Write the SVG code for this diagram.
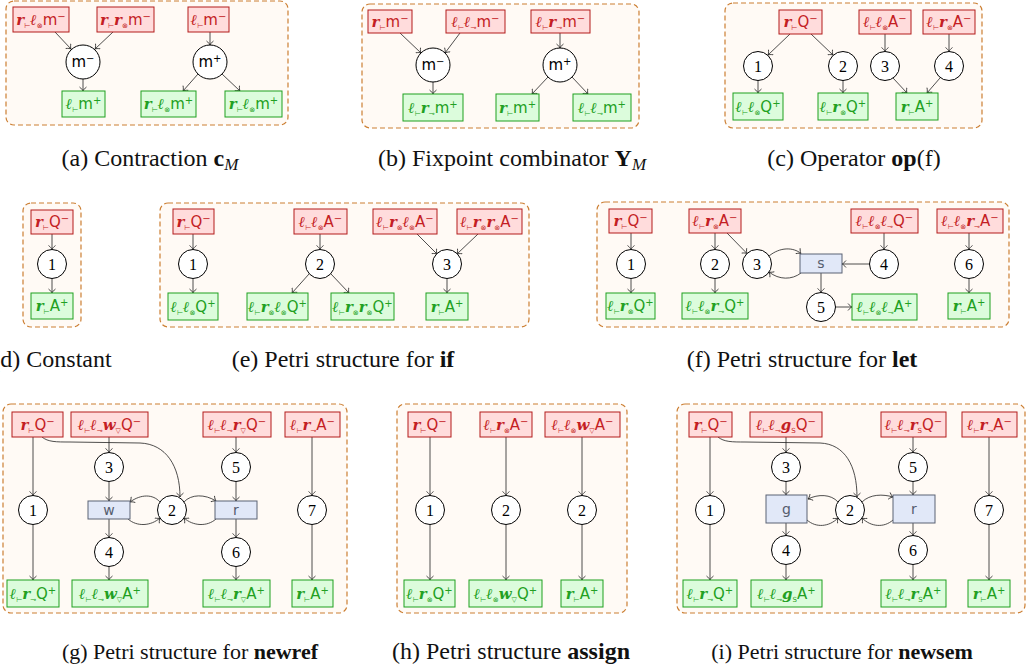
<svg xmlns="http://www.w3.org/2000/svg" width="1027" height="668" viewBox="0 0 1027 668">
<defs>
<marker id="ah" viewBox="-5 -4 6 8" refX="0" refY="0" markerWidth="6" markerHeight="8" markerUnits="userSpaceOnUse" orient="auto">
<path d="M-4,-3.5 C-2.5,-1.5 -1,-0.4 0,0 C-1,0.4 -2.5,1.5 -4,3.5" fill="none" stroke="#222" stroke-width="0.8"/>
</marker>
<style>
.fr{fill:#fffaf5;stroke:#cc7f33;stroke-width:1.2;stroke-dasharray:5 3}
.n rect{fill:#ffdcdc;stroke:#b31b1b;stroke-width:1}
.n text{fill:#c41e24}
.p rect{fill:#dcfcdc;stroke:#1fa01f;stroke-width:1}
.p text{fill:#22a022}
.t rect{fill:#e1e8f8;stroke:#5b6274;stroke-width:1}
.t text{fill:#555d6e;font-family:"DejaVu Sans",sans-serif;font-size:14px;text-anchor:middle}
.pl circle{fill:#fff;stroke:#000;stroke-width:1}
.pl text{font-family:"Liberation Serif",serif;font-size:16px;text-anchor:middle;fill:#000}
.pm text{font-family:"DejaVu Sans",sans-serif;font-size:15px;text-anchor:middle;fill:#000}
text.l{font-family:"DejaVu Sans",sans-serif;font-size:15px;text-anchor:middle}
.c{font-family:"DejaVu Serif",serif;font-style:italic;font-weight:bold}
.b{font-size:7px}
.u{font-size:10px}
.e path{fill:none;stroke:#222;stroke-width:0.8;marker-end:url(#ah)}
.cap{font-family:"Liberation Serif",serif;font-size:24px;text-anchor:middle;fill:#111}
.cs{font-size:22px}
.bf{font-weight:bold}
.it{font-style:italic}
</style>
</defs>

<g id="frames">
<rect class="fr" x="6" y="1" width="282" height="124" rx="8"/>
<rect class="fr" x="362" y="4" width="277" height="124" rx="8"/>
<rect class="fr" x="725" y="3" width="257" height="125" rx="8"/>
<rect class="fr" x="23" y="203" width="58" height="124" rx="8"/>
<rect class="fr" x="160" y="203" width="369" height="124" rx="8"/>
<rect class="fr" x="597" y="202" width="412" height="125" rx="8"/>
<rect class="fr" x="3" y="404" width="344" height="209" rx="8"/>
<rect class="fr" x="397" y="404" width="230" height="209" rx="8"/>
<rect class="fr" x="677" y="404" width="348" height="209" rx="8"/>
</g>

<g id="connectors" class="e">
<path d="M55 32 L71 49"/><path d="M113 32 L95 49"/><path d="M83 79 L83 91"/>
<path d="M210 32 L210 45"/><path d="M198 74 L183 91"/><path d="M222 74 L240 91"/>
<path d="M400 33 L421 53"/><path d="M460 33 L445 53"/><path d="M560 33 L560 48"/>
<path d="M433 82 L433 94"/><path d="M548 77 L532 94"/><path d="M572 77 L588 94"/>
<path d="M790 34 L768 55"/><path d="M811 34 L833 55"/><path d="M885 34 L885 51.5"/><path d="M949 34 L949 51.5"/>
<path d="M758 80.5 L758 93"/><path d="M843 80.5 L843 93"/><path d="M893 78 L907 93"/><path d="M940 78 L927 93"/>
<path d="M52 234 L52 249.5"/><path d="M52 278.5 L52 293"/>
<path d="M193 234 L193 249.5"/><path d="M193 278.5 L193 293"/>
<path d="M320 234 L320 249.5"/><path d="M309 274 L292 293"/><path d="M331 274 L349 293"/>
<path d="M417 234 L437 254"/><path d="M478 234 L457 254"/><path d="M447 278.5 L447 293"/>
<path d="M631 233 L631 249.5"/><path d="M631 278.5 L631 293"/>
<path d="M715 233 L715 249.5"/><path d="M715 278.5 L715 293"/>
<path d="M727 233 L747 253.5"/>
<path d="M769 256 C780 247 793 247 801 253.5"/>
<path d="M801 273 C792 280 779 280 769 272"/>
<path d="M869.5 264 L842 264"/>
<path d="M884 233 L884 249.5"/>
<path d="M821 273 L821 292.5"/>
<path d="M835.5 307 L852 307"/>
<path d="M969 233 L969 249.5"/><path d="M969 278.5 L969 293"/>
<path d="M33 437 L33 495.5"/><path d="M33 524.5 L33 580"/>
<path d="M42 437 C48 442 56 442 70 442 L140 443 C166 444 180 466 180 497"/>
<path d="M109 437 L109 452.5"/><path d="M109 481.5 L109 501"/><path d="M109 519 L109 537.5"/><path d="M109 566.5 L109 580"/>
<path d="M236 437 L236 452.5"/><path d="M236 481.5 L236 501"/><path d="M236 519 L236 537.5"/><path d="M236 566.5 L236 580"/>
<path d="M312 437 L312 495.5"/><path d="M312 524.5 L312 580"/>
<path d="M160 502 C153 494 141 494 130 502"/>
<path d="M128 519 C137 527 151 526 160 518"/>
<path d="M184 502 C191 494 205 494 216 501"/>
<path d="M216 519 C207 527 193 526 184 518"/>
<path d="M430 437 L430 495.5"/><path d="M430 524.5 L430 580"/>
<path d="M506 437 L506 495.5"/><path d="M506 524.5 L506 580"/>
<path d="M582 437 L582 495.5"/><path d="M582 524.5 L582 580"/>
<path d="M710 437 L710 495.5"/><path d="M710 524.5 L710 580"/>
<path d="M718 437 C724 442 732 442 745 442 L820 443 C845 444 857 466 857 497"/>
<path d="M786 437 L786 452.5"/><path d="M786 481.5 L786 495"/><path d="M786 523 L786 535.5"/><path d="M786 564.5 L786 580"/>
<path d="M913 437 L913 452.5"/><path d="M913 481.5 L913 495"/><path d="M913 523 L913 535.5"/><path d="M913 564.5 L913 580"/>
<path d="M989 437 L989 495.5"/><path d="M989 524.5 L989 580"/>
<path d="M838 502 C831 494 818 494 808 499"/>
<path d="M807 520 C816 528 829 527 838 518"/>
<path d="M862 502 C870 494 883 494 893 497"/>
<path d="M893 520 C884 528 871 527 862 518"/>
</g>

<!-- (a) -->
<g id="a_n1" class="n"><rect x="13" y="7" width="56" height="25"/><text class="l" x="41" y="24.5"><tspan class="c">r</tspan><tspan class="b" dy="3">⊢</tspan><tspan class="c" dy="-3">ℓ</tspan><tspan class="b" dy="3">⊗</tspan><tspan dy="-3">m</tspan><tspan class="u" dy="-5">−</tspan></text></g>
<g id="a_n2" class="n"><rect x="97" y="7" width="57" height="25"/><text class="l" x="125.5" y="24.5"><tspan class="c">r</tspan><tspan class="b" dy="3">⊢</tspan><tspan class="c" dy="-3">r</tspan><tspan class="b" dy="3">⊗</tspan><tspan dy="-3">m</tspan><tspan class="u" dy="-5">−</tspan></text></g>
<g id="a_n3" class="n"><rect x="188" y="7" width="41" height="25"/><text class="l" x="208.5" y="24.5"><tspan class="c">ℓ</tspan><tspan class="b" dy="3">⊢</tspan><tspan dy="-3">m</tspan><tspan class="u" dy="-5">−</tspan></text></g>
<g id="a_m1" class="pl pm"><circle cx="83" cy="62" r="17"/><text x="83" y="67">m<tspan class="u" dy="-5">−</tspan></text></g>
<g id="a_m2" class="pl pm"><circle cx="210" cy="62" r="17"/><text x="210" y="67">m<tspan class="u" dy="-5">+</tspan></text></g>
<g id="a_p1" class="p"><rect x="62" y="91" width="43" height="26"/><text class="l" x="83.5" y="109"><tspan class="c">ℓ</tspan><tspan class="b" dy="3">⊢</tspan><tspan dy="-3">m</tspan><tspan class="u" dy="-5">+</tspan></text></g>
<g id="a_p2" class="p"><rect x="141" y="91" width="55" height="26"/><text class="l" x="168.5" y="109"><tspan class="c">r</tspan><tspan class="b" dy="3">⊢</tspan><tspan class="c" dy="-3">ℓ</tspan><tspan class="b" dy="3">⊗</tspan><tspan dy="-3">m</tspan><tspan class="u" dy="-5">+</tspan></text></g>
<g id="a_p3" class="p"><rect x="225" y="91" width="57" height="26"/><text class="l" x="253.5" y="109"><tspan class="c">r</tspan><tspan class="b" dy="3">⊢</tspan><tspan class="c" dy="-3">ℓ</tspan><tspan class="b" dy="3">⊗</tspan><tspan dy="-3">m</tspan><tspan class="u" dy="-5">+</tspan></text></g>

<!-- (b) -->
<g id="b_n1" class="n"><rect x="368" y="10" width="44" height="23"/><text class="l" x="390" y="26.5"><tspan class="c">r</tspan><tspan class="b" dy="3">⊢</tspan><tspan dy="-3">m</tspan><tspan class="u" dy="-5">−</tspan></text></g>
<g id="b_n2" class="n"><rect x="446" y="10" width="59" height="23"/><text class="l" x="475.5" y="26.5"><tspan class="c">ℓ</tspan><tspan class="b" dy="3">⊢</tspan><tspan class="c" dy="-3">ℓ</tspan><tspan class="b" dy="3">⊸</tspan><tspan dy="-3">m</tspan><tspan class="u" dy="-5">−</tspan></text></g>
<g id="b_n3" class="n"><rect x="531" y="10" width="59" height="23"/><text class="l" x="560.5" y="26.5"><tspan class="c">ℓ</tspan><tspan class="b" dy="3">⊢</tspan><tspan class="c" dy="-3">r</tspan><tspan class="b" dy="3">⊸</tspan><tspan dy="-3">m</tspan><tspan class="u" dy="-5">−</tspan></text></g>
<g id="b_m1" class="pl pm"><circle cx="433" cy="65" r="17"/><text x="433" y="70">m<tspan class="u" dy="-5">−</tspan></text></g>
<g id="b_m2" class="pl pm"><circle cx="560" cy="65" r="17"/><text x="560" y="70">m<tspan class="u" dy="-5">+</tspan></text></g>
<g id="b_p1" class="p"><rect x="403" y="94" width="60" height="27"/><text class="l" x="433" y="112.5"><tspan class="c">ℓ</tspan><tspan class="b" dy="3">⊢</tspan><tspan class="c" dy="-3">r</tspan><tspan class="b" dy="3">⊸</tspan><tspan dy="-3">m</tspan><tspan class="u" dy="-5">+</tspan></text></g>
<g id="b_p2" class="p"><rect x="496" y="94" width="43" height="27"/><text class="l" x="517.5" y="112.5"><tspan class="c">r</tspan><tspan class="b" dy="3">⊢</tspan><tspan dy="-3">m</tspan><tspan class="u" dy="-5">+</tspan></text></g>
<g id="b_p3" class="p"><rect x="573" y="94" width="58" height="27"/><text class="l" x="602" y="112.5"><tspan class="c">ℓ</tspan><tspan class="b" dy="3">⊢</tspan><tspan class="c" dy="-3">ℓ</tspan><tspan class="b" dy="3">⊸</tspan><tspan dy="-3">m</tspan><tspan class="u" dy="-5">+</tspan></text></g>

<!-- (c) -->
<g id="c_n1" class="n"><rect x="779" y="10" width="43" height="24"/><text class="l" x="800.5" y="27"><tspan class="c">r</tspan><tspan class="b" dy="3">⊢</tspan><tspan dy="-3">Q</tspan><tspan class="u" dy="-5">−</tspan></text></g>
<g id="c_n2" class="n"><rect x="859" y="10" width="52" height="24"/><text class="l" x="885" y="27"><tspan class="c">ℓ</tspan><tspan class="b" dy="3">⊢</tspan><tspan class="c" dy="-3">ℓ</tspan><tspan class="b" dy="3">⊗</tspan><tspan dy="-3">A</tspan><tspan class="u" dy="-5">−</tspan></text></g>
<g id="c_n3" class="n"><rect x="923" y="10" width="52" height="24"/><text class="l" x="949" y="27"><tspan class="c">ℓ</tspan><tspan class="b" dy="3">⊢</tspan><tspan class="c" dy="-3">r</tspan><tspan class="b" dy="3">⊗</tspan><tspan dy="-3">A</tspan><tspan class="u" dy="-5">−</tspan></text></g>
<g id="c_1" class="pl"><circle cx="758" cy="66" r="14.5"/><text x="758" y="71.5">1</text></g>
<g id="c_2" class="pl"><circle cx="843" cy="66" r="14.5"/><text x="843" y="71.5">2</text></g>
<g id="c_3" class="pl"><circle cx="885" cy="66" r="14.5"/><text x="885" y="71.5">3</text></g>
<g id="c_4" class="pl"><circle cx="949" cy="66" r="14.5"/><text x="949" y="71.5">4</text></g>
<g id="c_p1" class="p"><rect x="733" y="93" width="50" height="27"/><text class="l" x="758" y="111.5"><tspan class="c">ℓ</tspan><tspan class="b" dy="3">⊢</tspan><tspan class="c" dy="-3">ℓ</tspan><tspan class="b" dy="3">⊗</tspan><tspan dy="-3">Q</tspan><tspan class="u" dy="-5">+</tspan></text></g>
<g id="c_p2" class="p"><rect x="818" y="93" width="50" height="27"/><text class="l" x="843" y="111.5"><tspan class="c">ℓ</tspan><tspan class="b" dy="3">⊢</tspan><tspan class="c" dy="-3">r</tspan><tspan class="b" dy="3">⊗</tspan><tspan dy="-3">Q</tspan><tspan class="u" dy="-5">+</tspan></text></g>
<g id="c_p3" class="p"><rect x="896" y="93" width="42" height="27"/><text class="l" x="917" y="111.5"><tspan class="c">r</tspan><tspan class="b" dy="3">⊢</tspan><tspan dy="-3">A</tspan><tspan class="u" dy="-5">+</tspan></text></g>

<!-- (d) -->
<g id="d_n1" class="n"><rect x="31" y="210" width="42" height="24"/><text class="l" x="52" y="227"><tspan class="c">r</tspan><tspan class="b" dy="3">⊢</tspan><tspan dy="-3">Q</tspan><tspan class="u" dy="-5">−</tspan></text></g>
<g id="d_1" class="pl"><circle cx="52" cy="264" r="14.5"/><text x="52" y="269.5">1</text></g>
<g id="d_p1" class="p"><rect x="31" y="293" width="42" height="26"/><text class="l" x="52" y="311"><tspan class="c">r</tspan><tspan class="b" dy="3">⊢</tspan><tspan dy="-3">A</tspan><tspan class="u" dy="-5">+</tspan></text></g>

<!-- (e) -->
<g id="e_n1" class="n"><rect x="173" y="209" width="41" height="25"/><text class="l" x="193.5" y="226.5"><tspan class="c">r</tspan><tspan class="b" dy="3">⊢</tspan><tspan dy="-3">Q</tspan><tspan class="u" dy="-5">−</tspan></text></g>
<g id="e_n2" class="n"><rect x="294" y="209" width="53" height="25"/><text class="l" x="320.5" y="226.5"><tspan class="c">ℓ</tspan><tspan class="b" dy="3">⊢</tspan><tspan class="c" dy="-3">ℓ</tspan><tspan class="b" dy="3">⊗</tspan><tspan dy="-3">A</tspan><tspan class="u" dy="-5">−</tspan></text></g>
<g id="e_n3" class="n"><rect x="373" y="209" width="64" height="25"/><text class="l" x="405" y="226.5"><tspan class="c">ℓ</tspan><tspan class="b" dy="3">⊢</tspan><tspan class="c" dy="-3">r</tspan><tspan class="b" dy="3">⊗</tspan><tspan class="c" dy="-3">ℓ</tspan><tspan class="b" dy="3">⊗</tspan><tspan dy="-3">A</tspan><tspan class="u" dy="-5">−</tspan></text></g>
<g id="e_n4" class="n"><rect x="457" y="209" width="65" height="25"/><text class="l" x="489.5" y="226.5"><tspan class="c">ℓ</tspan><tspan class="b" dy="3">⊢</tspan><tspan class="c" dy="-3">r</tspan><tspan class="b" dy="3">⊗</tspan><tspan class="c" dy="-3">r</tspan><tspan class="b" dy="3">⊗</tspan><tspan dy="-3">A</tspan><tspan class="u" dy="-5">−</tspan></text></g>
<g id="e_1" class="pl"><circle cx="193" cy="264" r="14.5"/><text x="193" y="269.5">1</text></g>
<g id="e_2" class="pl"><circle cx="320" cy="264" r="14.5"/><text x="320" y="269.5">2</text></g>
<g id="e_3" class="pl"><circle cx="447" cy="264" r="14.5"/><text x="447" y="269.5">3</text></g>
<g id="e_p1" class="p"><rect x="168" y="293" width="50" height="27"/><text class="l" x="193" y="311.5"><tspan class="c">ℓ</tspan><tspan class="b" dy="3">⊢</tspan><tspan class="c" dy="-3">ℓ</tspan><tspan class="b" dy="3">⊗</tspan><tspan dy="-3">Q</tspan><tspan class="u" dy="-5">+</tspan></text></g>
<g id="e_p2" class="p"><rect x="247" y="293" width="61" height="27"/><text class="l" x="277.5" y="311.5"><tspan class="c">ℓ</tspan><tspan class="b" dy="3">⊢</tspan><tspan class="c" dy="-3">r</tspan><tspan class="b" dy="3">⊗</tspan><tspan class="c" dy="-3">ℓ</tspan><tspan class="b" dy="3">⊗</tspan><tspan dy="-3">Q</tspan><tspan class="u" dy="-5">+</tspan></text></g>
<g id="e_p3" class="p"><rect x="331" y="293" width="63" height="27"/><text class="l" x="362.5" y="311.5"><tspan class="c">ℓ</tspan><tspan class="b" dy="3">⊢</tspan><tspan class="c" dy="-3">r</tspan><tspan class="b" dy="3">⊗</tspan><tspan class="c" dy="-3">r</tspan><tspan class="b" dy="3">⊗</tspan><tspan dy="-3">Q</tspan><tspan class="u" dy="-5">+</tspan></text></g>
<g id="e_p4" class="p"><rect x="426" y="293" width="42" height="27"/><text class="l" x="447" y="311.5"><tspan class="c">r</tspan><tspan class="b" dy="3">⊢</tspan><tspan dy="-3">A</tspan><tspan class="u" dy="-5">+</tspan></text></g>

<!-- (f) -->
<g id="f_n1" class="n"><rect x="609" y="209" width="43" height="24"/><text class="l" x="630.5" y="226"><tspan class="c">r</tspan><tspan class="b" dy="3">⊢</tspan><tspan dy="-3">Q</tspan><tspan class="u" dy="-5">−</tspan></text></g>
<g id="f_n2" class="n"><rect x="689" y="209" width="52" height="24"/><text class="l" x="715" y="226"><tspan class="c">ℓ</tspan><tspan class="b" dy="3">⊢</tspan><tspan class="c" dy="-3">r</tspan><tspan class="b" dy="3">⊗</tspan><tspan dy="-3">A</tspan><tspan class="u" dy="-5">−</tspan></text></g>
<g id="f_n3" class="n"><rect x="851" y="209" width="67" height="24"/><text class="l" x="884.5" y="226"><tspan class="c">ℓ</tspan><tspan class="b" dy="3">⊢</tspan><tspan class="c" dy="-3">ℓ</tspan><tspan class="b" dy="3">⊗</tspan><tspan class="c" dy="-3">ℓ</tspan><tspan class="b" dy="3">⊸</tspan><tspan dy="-3">Q</tspan><tspan class="u" dy="-5">−</tspan></text></g>
<g id="f_n4" class="n"><rect x="937" y="209" width="66" height="24"/><text class="l" x="970" y="226"><tspan class="c">ℓ</tspan><tspan class="b" dy="3">⊢</tspan><tspan class="c" dy="-3">ℓ</tspan><tspan class="b" dy="3">⊗</tspan><tspan class="c" dy="-3">r</tspan><tspan class="b" dy="3">⊸</tspan><tspan dy="-3">A</tspan><tspan class="u" dy="-5">−</tspan></text></g>
<g id="f_1" class="pl"><circle cx="631" cy="264" r="14.5"/><text x="631" y="269.5">1</text></g>
<g id="f_2" class="pl"><circle cx="715" cy="264" r="14.5"/><text x="715" y="269.5">2</text></g>
<g id="f_3" class="pl"><circle cx="757" cy="264" r="14.5"/><text x="757" y="269.5">3</text></g>
<g id="f_4" class="pl"><circle cx="884" cy="264" r="14.5"/><text x="884" y="269.5">4</text></g>
<g id="f_5" class="pl"><circle cx="821" cy="307" r="14.5"/><text x="821" y="312.5">5</text></g>
<g id="f_6" class="pl"><circle cx="969" cy="264" r="14.5"/><text x="969" y="269.5">6</text></g>
<g id="f_s" class="t"><rect x="800" y="254" width="42" height="19"/><text x="821" y="268">s</text></g>
<g id="f_p1" class="p"><rect x="606" y="293" width="49" height="26"/><text class="l" x="630.5" y="311"><tspan class="c">ℓ</tspan><tspan class="b" dy="3">⊢</tspan><tspan class="c" dy="-3">r</tspan><tspan class="b" dy="3">⊗</tspan><tspan dy="-3">Q</tspan><tspan class="u" dy="-5">+</tspan></text></g>
<g id="f_p2" class="p"><rect x="682" y="293" width="66" height="26"/><text class="l" x="715" y="311"><tspan class="c">ℓ</tspan><tspan class="b" dy="3">⊢</tspan><tspan class="c" dy="-3">ℓ</tspan><tspan class="b" dy="3">⊗</tspan><tspan class="c" dy="-3">r</tspan><tspan class="b" dy="3">⊸</tspan><tspan dy="-3">Q</tspan><tspan class="u" dy="-5">+</tspan></text></g>
<g id="f_p3" class="p"><rect x="852" y="294" width="65" height="26"/><text class="l" x="884.5" y="312"><tspan class="c">ℓ</tspan><tspan class="b" dy="3">⊢</tspan><tspan class="c" dy="-3">ℓ</tspan><tspan class="b" dy="3">⊗</tspan><tspan class="c" dy="-3">ℓ</tspan><tspan class="b" dy="3">⊸</tspan><tspan dy="-3">A</tspan><tspan class="u" dy="-5">+</tspan></text></g>
<g id="f_p4" class="p"><rect x="948" y="293" width="42" height="26"/><text class="l" x="969" y="311"><tspan class="c">r</tspan><tspan class="b" dy="3">⊢</tspan><tspan dy="-3">A</tspan><tspan class="u" dy="-5">+</tspan></text></g>

<!-- (g) -->
<g id="g_n1" class="n"><rect x="12" y="412" width="51" height="25"/><text class="l" x="37.5" y="429.5"><tspan class="c">r</tspan><tspan class="b" dy="3">⊢</tspan><tspan dy="-3">Q</tspan><tspan class="u" dy="-5">−</tspan></text></g>
<g id="g_n2" class="n"><rect x="71" y="412" width="77" height="25"/><text class="l" x="109.5" y="429.5"><tspan class="c">ℓ</tspan><tspan class="b" dy="3">⊢</tspan><tspan class="c" dy="-3">ℓ</tspan><tspan class="b" dy="3">⊸</tspan><tspan class="c" dy="-3">w</tspan><tspan class="b" dy="3">▽</tspan><tspan dy="-3">Q</tspan><tspan class="u" dy="-5">−</tspan></text></g>
<g id="g_n3" class="n"><rect x="203" y="412" width="68" height="25"/><text class="l" x="237" y="429.5"><tspan class="c">ℓ</tspan><tspan class="b" dy="3">⊢</tspan><tspan class="c" dy="-3">ℓ</tspan><tspan class="b" dy="3">⊸</tspan><tspan class="c" dy="-3">r</tspan><tspan class="b" dy="3">▽</tspan><tspan dy="-3">Q</tspan><tspan class="u" dy="-5">−</tspan></text></g>
<g id="g_n4" class="n"><rect x="285" y="412" width="55" height="25"/><text class="l" x="312.5" y="429.5"><tspan class="c">ℓ</tspan><tspan class="b" dy="3">⊢</tspan><tspan class="c" dy="-3">r</tspan><tspan class="b" dy="3">⊸</tspan><tspan dy="-3">A</tspan><tspan class="u" dy="-5">−</tspan></text></g>
<g id="g_3" class="pl"><circle cx="109" cy="467" r="14.5"/><text x="109" y="472.5">3</text></g>
<g id="g_5" class="pl"><circle cx="236" cy="467" r="14.5"/><text x="236" y="472.5">5</text></g>
<g id="g_1" class="pl"><circle cx="33" cy="510" r="14.5"/><text x="33" y="515.5">1</text></g>
<g id="g_2" class="pl"><circle cx="172" cy="510" r="14.5"/><text x="172" y="515.5">2</text></g>
<g id="g_7" class="pl"><circle cx="312" cy="510" r="14.5"/><text x="312" y="515.5">7</text></g>
<g id="g_4" class="pl"><circle cx="109" cy="552" r="14.5"/><text x="109" y="557.5">4</text></g>
<g id="g_6" class="pl"><circle cx="236" cy="552" r="14.5"/><text x="236" y="557.5">6</text></g>
<g id="g_w" class="t"><rect x="88" y="501" width="42" height="18"/><text x="109" y="515">w</text></g>
<g id="g_r" class="t"><rect x="215" y="501" width="42" height="18"/><text x="236" y="515">r</text></g>
<g id="g_p1" class="p"><rect x="7" y="580" width="52" height="27"/><text class="l" x="33" y="598.5"><tspan class="c">ℓ</tspan><tspan class="b" dy="3">⊢</tspan><tspan class="c" dy="-3">r</tspan><tspan class="b" dy="3">⊸</tspan><tspan dy="-3">Q</tspan><tspan class="u" dy="-5">+</tspan></text></g>
<g id="g_p2" class="p"><rect x="72" y="580" width="76" height="27"/><text class="l" x="110" y="598.5"><tspan class="c">ℓ</tspan><tspan class="b" dy="3">⊢</tspan><tspan class="c" dy="-3">ℓ</tspan><tspan class="b" dy="3">⊸</tspan><tspan class="c" dy="-3">w</tspan><tspan class="b" dy="3">▽</tspan><tspan dy="-3">A</tspan><tspan class="u" dy="-5">+</tspan></text></g>
<g id="g_p3" class="p"><rect x="203" y="580" width="67" height="27"/><text class="l" x="236.5" y="598.5"><tspan class="c">ℓ</tspan><tspan class="b" dy="3">⊢</tspan><tspan class="c" dy="-3">ℓ</tspan><tspan class="b" dy="3">⊸</tspan><tspan class="c" dy="-3">r</tspan><tspan class="b" dy="3">▽</tspan><tspan dy="-3">A</tspan><tspan class="u" dy="-5">+</tspan></text></g>
<g id="g_p4" class="p"><rect x="292" y="580" width="41" height="27"/><text class="l" x="312.5" y="598.5"><tspan class="c">r</tspan><tspan class="b" dy="3">⊢</tspan><tspan dy="-3">A</tspan><tspan class="u" dy="-5">+</tspan></text></g>

<!-- (h) -->
<g id="h_n1" class="n"><rect x="408" y="412" width="43" height="25"/><text class="l" x="429.5" y="429.5"><tspan class="c">r</tspan><tspan class="b" dy="3">⊢</tspan><tspan dy="-3">Q</tspan><tspan class="u" dy="-5">−</tspan></text></g>
<g id="h_n2" class="n"><rect x="480" y="412" width="52" height="25"/><text class="l" x="506" y="429.5"><tspan class="c">ℓ</tspan><tspan class="b" dy="3">⊢</tspan><tspan class="c" dy="-3">r</tspan><tspan class="b" dy="3">⊗</tspan><tspan dy="-3">A</tspan><tspan class="u" dy="-5">−</tspan></text></g>
<g id="h_n3" class="n"><rect x="545" y="412" width="75" height="25"/><text class="l" x="582.5" y="429.5"><tspan class="c">ℓ</tspan><tspan class="b" dy="3">⊢</tspan><tspan class="c" dy="-3">ℓ</tspan><tspan class="b" dy="3">⊗</tspan><tspan class="c" dy="-3">w</tspan><tspan class="b" dy="3">▽</tspan><tspan dy="-3">A</tspan><tspan class="u" dy="-5">−</tspan></text></g>
<g id="h_1" class="pl"><circle cx="430" cy="510" r="14.5"/><text x="430" y="515.5">1</text></g>
<g id="h_2a" class="pl"><circle cx="506" cy="510" r="14.5"/><text x="506" y="515.5">2</text></g>
<g id="h_2b" class="pl"><circle cx="582" cy="510" r="14.5"/><text x="582" y="515.5">2</text></g>
<g id="h_p1" class="p"><rect x="404" y="580" width="51" height="27"/><text class="l" x="429.5" y="598.5"><tspan class="c">ℓ</tspan><tspan class="b" dy="3">⊢</tspan><tspan class="c" dy="-3">r</tspan><tspan class="b" dy="3">⊗</tspan><tspan dy="-3">Q</tspan><tspan class="u" dy="-5">+</tspan></text></g>
<g id="h_p2" class="p"><rect x="469" y="580" width="73" height="27"/><text class="l" x="505.5" y="598.5"><tspan class="c">ℓ</tspan><tspan class="b" dy="3">⊢</tspan><tspan class="c" dy="-3">ℓ</tspan><tspan class="b" dy="3">⊗</tspan><tspan class="c" dy="-3">w</tspan><tspan class="b" dy="3">▽</tspan><tspan dy="-3">Q</tspan><tspan class="u" dy="-5">+</tspan></text></g>
<g id="h_p3" class="p"><rect x="561" y="580" width="42" height="27"/><text class="l" x="582" y="598.5"><tspan class="c">r</tspan><tspan class="b" dy="3">⊢</tspan><tspan dy="-3">A</tspan><tspan class="u" dy="-5">+</tspan></text></g>

<!-- (i) -->
<g id="i_n1" class="n"><rect x="689" y="412" width="43" height="25"/><text class="l" x="710.5" y="429.5"><tspan class="c">r</tspan><tspan class="b" dy="3">⊢</tspan><tspan dy="-3">Q</tspan><tspan class="u" dy="-5">−</tspan></text></g>
<g id="i_n2" class="n"><rect x="750" y="412" width="72" height="25"/><text class="l" x="786" y="429.5"><tspan class="c">ℓ</tspan><tspan class="b" dy="3">⊢</tspan><tspan class="c" dy="-3">ℓ</tspan><tspan class="b" dy="3">⊸</tspan><tspan class="c" dy="-3">g</tspan><tspan class="b" dy="3">S</tspan><tspan dy="-3">Q</tspan><tspan class="u" dy="-5">−</tspan></text></g>
<g id="i_n3" class="n"><rect x="881" y="412" width="65" height="25"/><text class="l" x="913.5" y="429.5"><tspan class="c">ℓ</tspan><tspan class="b" dy="3">⊢</tspan><tspan class="c" dy="-3">ℓ</tspan><tspan class="b" dy="3">⊸</tspan><tspan class="c" dy="-3">r</tspan><tspan class="b" dy="3">S</tspan><tspan dy="-3">Q</tspan><tspan class="u" dy="-5">−</tspan></text></g>
<g id="i_n4" class="n"><rect x="962" y="412" width="55" height="25"/><text class="l" x="989.5" y="429.5"><tspan class="c">ℓ</tspan><tspan class="b" dy="3">⊢</tspan><tspan class="c" dy="-3">r</tspan><tspan class="b" dy="3">⊸</tspan><tspan dy="-3">A</tspan><tspan class="u" dy="-5">−</tspan></text></g>
<g id="i_3" class="pl"><circle cx="786" cy="467" r="14.5"/><text x="786" y="472.5">3</text></g>
<g id="i_5" class="pl"><circle cx="913" cy="467" r="14.5"/><text x="913" y="472.5">5</text></g>
<g id="i_1" class="pl"><circle cx="710" cy="510" r="14.5"/><text x="710" y="515.5">1</text></g>
<g id="i_2" class="pl"><circle cx="850" cy="510" r="14.5"/><text x="850" y="515.5">2</text></g>
<g id="i_7" class="pl"><circle cx="989" cy="510" r="14.5"/><text x="989" y="515.5">7</text></g>
<g id="i_4" class="pl"><circle cx="786" cy="550" r="14.5"/><text x="786" y="555.5">4</text></g>
<g id="i_6" class="pl"><circle cx="913" cy="550" r="14.5"/><text x="913" y="555.5">6</text></g>
<g id="i_g" class="t"><rect x="766" y="495" width="41" height="28"/><text x="786.5" y="514">g</text></g>
<g id="i_r" class="t"><rect x="893" y="495" width="42" height="28"/><text x="914" y="514">r</text></g>
<g id="i_p1" class="p"><rect x="683" y="580" width="54" height="27"/><text class="l" x="710" y="598.5"><tspan class="c">ℓ</tspan><tspan class="b" dy="3">⊢</tspan><tspan class="c" dy="-3">r</tspan><tspan class="b" dy="3">⊸</tspan><tspan dy="-3">Q</tspan><tspan class="u" dy="-5">+</tspan></text></g>
<g id="i_p2" class="p"><rect x="751" y="580" width="71" height="27"/><text class="l" x="786.5" y="598.5"><tspan class="c">ℓ</tspan><tspan class="b" dy="3">⊢</tspan><tspan class="c" dy="-3">ℓ</tspan><tspan class="b" dy="3">⊸</tspan><tspan class="c" dy="-3">g</tspan><tspan class="b" dy="3">S</tspan><tspan dy="-3">A</tspan><tspan class="u" dy="-5">+</tspan></text></g>
<g id="i_p3" class="p"><rect x="881" y="580" width="65" height="27"/><text class="l" x="913.5" y="598.5"><tspan class="c">ℓ</tspan><tspan class="b" dy="3">⊢</tspan><tspan class="c" dy="-3">ℓ</tspan><tspan class="b" dy="3">⊸</tspan><tspan class="c" dy="-3">r</tspan><tspan class="b" dy="3">S</tspan><tspan dy="-3">A</tspan><tspan class="u" dy="-5">+</tspan></text></g>
<g id="i_p4" class="p"><rect x="968" y="580" width="42" height="27"/><text class="l" x="989" y="598.5"><tspan class="c">r</tspan><tspan class="b" dy="3">⊢</tspan><tspan dy="-3">A</tspan><tspan class="u" dy="-5">+</tspan></text></g>

<g id="captions">
<text class="cap" x="150" y="166">(a) Contraction <tspan class="bf">c</tspan><tspan class="it" font-size="17" dy="4">M</tspan></text>
<text class="cap" x="512" y="166">(b) Fixpoint combinator <tspan class="bf">Y</tspan><tspan class="it" font-size="17" dy="4">M</tspan></text>
<text class="cap" x="854" y="166">(c) Operator <tspan class="bf">op</tspan>(f)</text>
<text class="cap" x="52" y="367">(d) Constant</text>
<text class="cap" x="343" y="367">(e) Petri structure for <tspan class="bf">if</tspan></text>
<text class="cap" x="802" y="367">(f) Petri structure for <tspan class="bf">let</tspan></text>
<text class="cap cs" x="190" y="659">(g) Petri structure for <tspan class="bf">newref</tspan></text>
<text class="cap" x="511" y="659">(h) Petri structure <tspan class="bf">assign</tspan></text>
<text class="cap cs" x="842" y="659">(i) Petri structure for <tspan class="bf">newsem</tspan></text>
</g>
</svg>
